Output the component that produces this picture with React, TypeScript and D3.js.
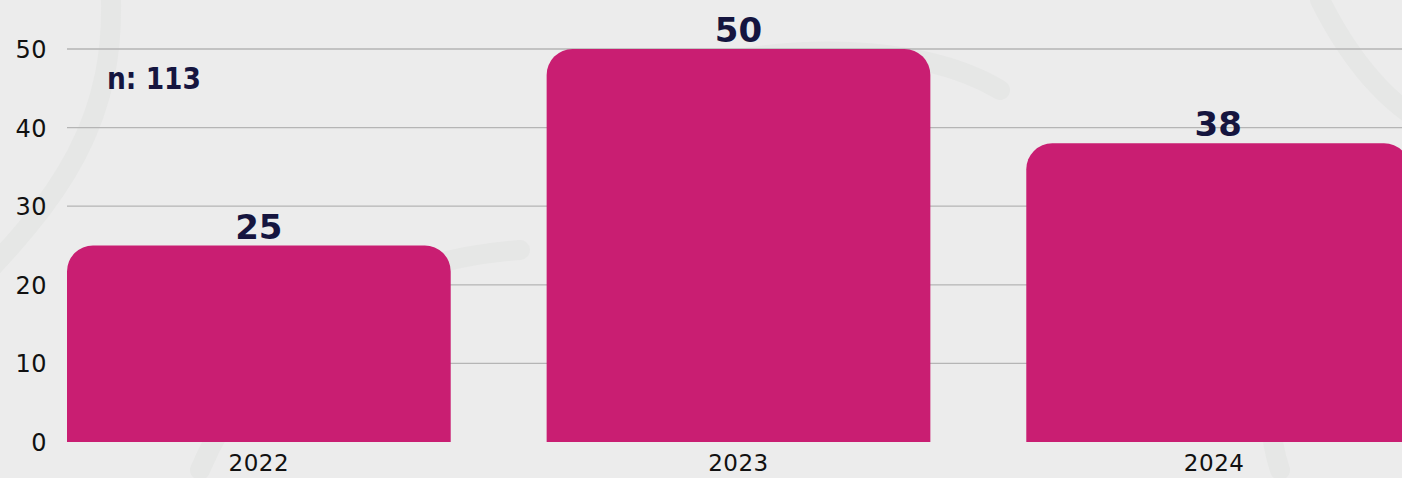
import React from "react";
import * as d3 from "d3";

const years = ["2022", "2023", "2024"];
const counts = [25, 50, 38];
const yTicks = [0, 10, 20, 30, 40, 50];
const totalLabel = "n: 113";

const W = 1402;
const H = 478;

export default function App() {
  const x = d3.scaleBand<string>().domain(years).range([67, 1410]).paddingInner(0.2).paddingOuter(0);
  const y = d3.scaleLinear().domain([0, 50]).range([442, 49]);
  const r = 26;
  const barPath = (xs: number, w: number, yt: number, yb: number) => {
    const p = d3.path();
    p.moveTo(xs, yb);
    p.lineTo(xs, yt + r);
    p.arcTo(xs, yt, xs + r, yt, r);
    p.lineTo(xs + w - r, yt);
    p.arcTo(xs + w, yt, xs + w, yt + r, r);
    p.lineTo(xs + w, yb);
    p.closePath();
    return p.toString();
  };
  const font = "'DejaVu Sans', sans-serif";
  return (
    <svg width={W} height={H} style={{ position: "absolute", left: 0, top: 0, background: "#ececec" }}>
      <rect x={0} y={0} width={W} height={H} fill="#ececec" />
      <g fill="none" stroke="#e6e7e6" strokeWidth={20} strokeLinecap="round">
        <path d="M -40 300 C 60 200, 120 120, 110 -20" />
        <path d="M 200 470 C 260 330, 380 260, 520 250" />
        <path d="M 560 120 C 700 40, 900 30, 1000 90" />
        <path d="M 1280 470 C 1250 380, 1300 300, 1402 280" />
        <path d="M 1320 0 C 1360 80, 1402 110, 1420 120" />
      </g>
      {yTicks.map((t) => (
        <g key={t}>
          {t > 0 && <line x1={67} x2={W} y1={y(t)} y2={y(t)} stroke="#b5b5b5" strokeWidth={1.3} />}
          <text x={47} y={y(t) + 9} textAnchor="end" fontFamily={font} fontSize={24} fill="#111" letterSpacing={0.5}>
            {t}
          </text>
        </g>
      ))}
      {years.map((yr, i) => {
        const xs = x(yr)!;
        const w = x.bandwidth();
        return (
          <g key={yr}>
            <path d={barPath(xs, w, y(counts[i]), y(0))} fill="#c91e72" />
            <text x={xs + w / 2} y={y(counts[i]) - 7} textAnchor="middle" fontFamily={font} fontWeight="bold" fontSize={34} fill="#15153f">
              {counts[i]}
            </text>
            <text x={xs + w / 2 - (i === 2 ? 4 : 0)} y={471} textAnchor="middle" fontFamily={font} fontSize={23} fill="#111" letterSpacing={0.5}>
              {yr}
            </text>
          </g>
        );
      })}
      <text x={107} y={89} fontFamily={font} fontWeight="bold" fontSize={31} fill="#15153f" textLength={94} lengthAdjust="spacingAndGlyphs">
        {totalLabel}
      </text>
    </svg>
  );
}
